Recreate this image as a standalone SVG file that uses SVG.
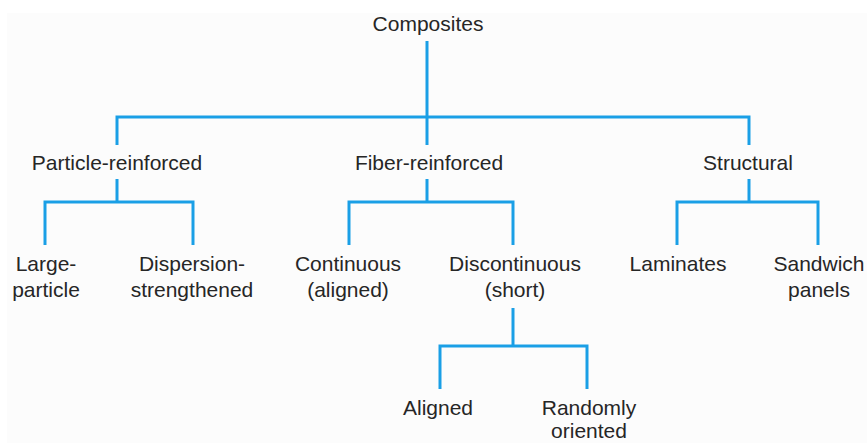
<svg xmlns="http://www.w3.org/2000/svg" width="867" height="443" viewBox="0 0 867 443">
<style>
.c{fill:none;stroke:#1a9fe6;stroke-width:3;stroke-linecap:butt;stroke-linejoin:miter}
text{font-family:"Liberation Sans",Arial,sans-serif;font-size:21px;fill:#262626;text-anchor:middle}
</style>
<rect width="867" height="443" fill="#ffffff"/>
<rect x="7" y="13" width="860" height="430" fill="#fcfcfc"/>
<g id="connectors">
<path class="c" d="M427,41 V145"/>
<path class="c" d="M117,145 V117 H749 V145"/>
<path class="c" d="M117,179 V202"/>
<path class="c" d="M45,245 V202 H193 V245"/>
<path class="c" d="M427,179 V202"/>
<path class="c" d="M349,245 V202 H513 V245"/>
<path class="c" d="M749,179 V202"/>
<path class="c" d="M677,245 V202 H818 V245"/>
<path class="c" d="M513,308 V346"/>
<path class="c" d="M440,389 V346 H587 V389"/>
</g>
<g id="composites"><text x="428" y="31">Composites</text></g>
<g id="particle-reinforced"><text x="117" y="170">Particle-reinforced</text></g>
<g id="fiber-reinforced"><text x="429" y="170">Fiber-reinforced</text></g>
<g id="structural"><text x="748" y="170">Structural</text></g>
<g id="large-particle"><text x="46" y="271">Large-</text><text x="46" y="297">particle</text></g>
<g id="dispersion-strengthened"><text x="192" y="271">Dispersion-</text><text x="192" y="297">strengthened</text></g>
<g id="continuous"><text x="348" y="271">Continuous</text><text x="348" y="297">(aligned)</text></g>
<g id="discontinuous"><text x="515" y="271">Discontinuous</text><text x="515" y="297">(short)</text></g>
<g id="laminates"><text x="678" y="271">Laminates</text></g>
<g id="sandwich-panels"><text x="819" y="271">Sandwich</text><text x="819" y="297">panels</text></g>
<g id="aligned"><text x="438" y="415">Aligned</text></g>
<g id="randomly-oriented"><text x="589" y="415">Randomly</text><text x="589" y="438">oriented</text></g>
</svg>
